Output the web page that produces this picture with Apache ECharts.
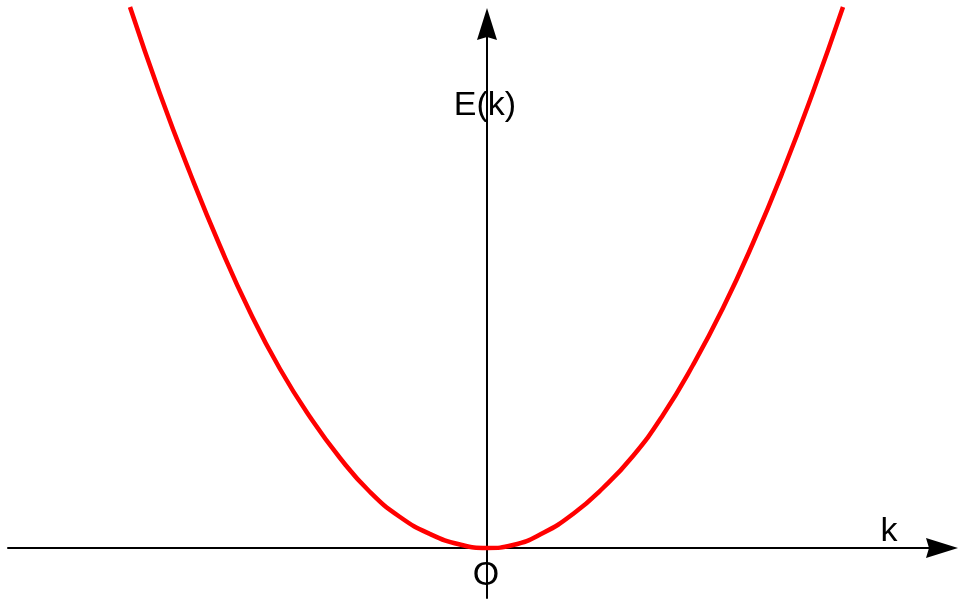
<!DOCTYPE html>
<html>
<head>
<meta charset="utf-8">
<title>E(k)</title>
<script src="https://cdn.jsdelivr.net/npm/echarts@6.0.0/dist/echarts.min.js"></script>
<style>
	html,body{margin:0;padding:0;background:#fff;}
	#chart{width:959px;height:601px;}
</style>
</head>
<body>
<div id="chart"></div>
<script>
//曲线上的点 k 值（左右两支，步长约 0.3）
var kValues=[-3.57,-3.27,-2.97,-2.67,-2.37,-2.07,-1.77,-1.47,-1.17,-0.87,-0.57,-0.27,0,
	0.26,0.56,0.86,1.16,1.46,1.76,2.06,2.36,2.66,2.96,3.26,3.56];
//对应的 E(k) 值
var eValues=[5.41,4.54,3.75,3.02,2.36,1.79,1.31,0.90,0.56,0.31,0.14,0.035,0,
	0.03,0.15,0.34,0.60,0.92,1.33,1.83,2.40,3.05,3.77,4.56,5.41];
//坐标轴范围
var kRange=[-4.79,4.55];
var eRange=[-0.5,5.24];

var myChart=echarts.init(document.getElementById('chart'));

function axisOption(range){
	return {
		type:'value',
		min:range[0],
		max:range[1],
		axisLine:{
			show:true,
			//箭头，背部稍微内凹
			symbol:['none','path://M10,0 L20,32 L10,29 L0,32 Z'],
			symbolSize:[20,32],
			lineStyle:{color:'#000',width:2}
		},
		axisTick:{show:false},
		axisLabel:{show:false},
		splitLine:{show:false}
	};
}

var textStyle={fill:'#000',fontSize:34,fontFamily:'"Liberation Sans", Arial, sans-serif',
	textAlign:'center',textVerticalAlign:'middle'};

var option={
	animation:false,
	grid:{left:8,right:17,top:24,bottom:3},
	xAxis:axisOption(kRange),
	yAxis:axisOption(eRange),
	series:[{
		type:'line',
		data:kValues.map(function(k,i){return [k,eValues[i]];}),
		smooth:true,
		symbol:'none',
		clip:false,
		lineStyle:{color:'#ff0000',width:4.5},
		z:1
	}],
	//坐标轴文字
	graphic:[
		{type:'text',x:485,y:106,style:Object.assign({text:'E(k)'},textStyle)},
		{type:'text',x:889,y:532,style:Object.assign({text:'k'},textStyle)},
		{type:'text',x:486,y:576,style:Object.assign({text:'O'},textStyle)}
	]
};
myChart.setOption(option);
</script>
</body>
</html>
